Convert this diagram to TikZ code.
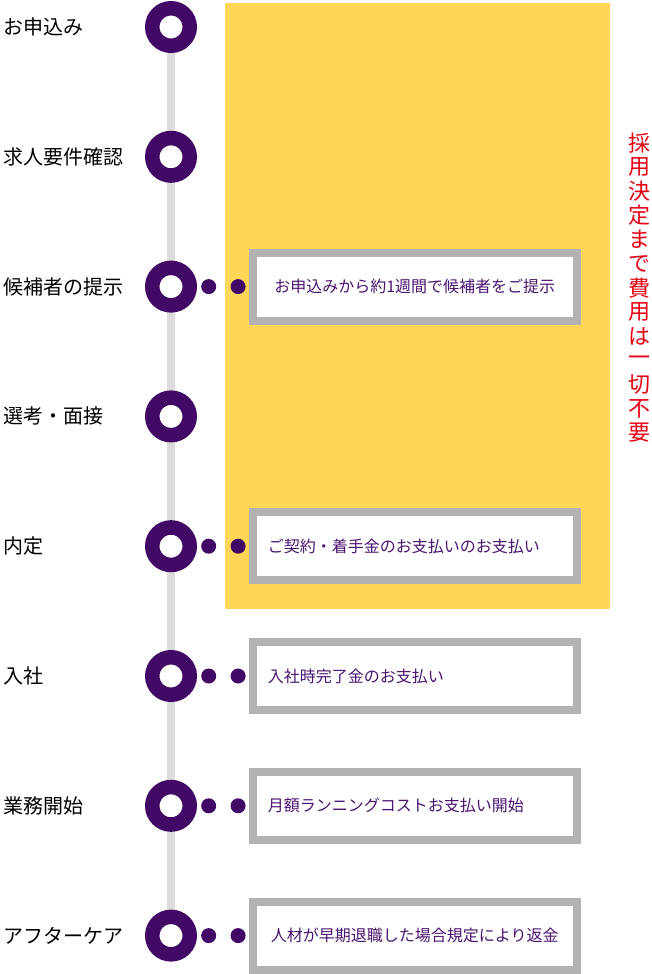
\documentclass[tikz,border=0pt]{standalone}
\usepackage{fontspec}
\setmainfont{Noto Sans CJK JP}
\usetikzlibrary{positioning,backgrounds}

\definecolor{ringpurple}{RGB}{66,8,102}
\definecolor{textpurple}{RGB}{75,20,112}
\definecolor{spinegray}{RGB}{220,220,220}
\definecolor{boxgray}{RGB}{178,178,178}
\definecolor{freeyellow}{RGB}{255,214,88}
\definecolor{notered}{RGB}{230,0,18}

\tikzset{
  ring/.style={circle,draw=ringpurple,line width=14.5pt,fill=white,minimum size=37.5pt,inner sep=0pt},
  dot/.style={circle,fill=ringpurple,minimum size=15pt,inner sep=0pt},
  steplabel/.style={anchor=west,inner sep=0pt,font=\fontsize{20pt}{24pt}\selectfont},
  infobox/.style={draw=boxgray,line width=8pt,fill=white,minimum width=324pt,minimum height=68pt,
    inner xsep=15pt,text width=294pt,text=textpurple,font=\fontsize{16pt}{19pt}\selectfont},
  freechar/.style={inner sep=0pt,text=notered,font=\fontsize{22pt}{24pt}\selectfont}
}

\begin{document}
\begin{tikzpicture}[x=1pt,y=-1pt]
    \useasboundingbox (0,0) rectangle (652,974);
    \fill[freeyellow,rounded corners=1pt] (225,3) rectangle (610,609);
    \foreach \name [count=\i] in {お申込み,求人要件確認,候補者の提示,選考・面接,内定,入社,業務開始,アフターケア}{
        \node[ring](s\i) at (171,27+129.8*\i-129.8){};
        \node[steplabel](l\i) at (3,27+129.8*\i-129.8){\name};
    }
    \begin{scope}[on background layer]
        \draw[spinegray,line width=8.5pt](s1.center)--(s8.center);
    \end{scope}
    \foreach \i/\txt/\al in {3/お申込みから約1週間で候補者をご提示/center,
                            5/ご契約・着手金のお支払いのお支払い/left,
                            6/入社時完了金のお支払い/left,
                            7/月額ランニングコストお支払い開始/left,
                            8/人材が早期退職した場合規定により返金/center}{
        \node[dot](da\i)[right=4pt of s\i]{};
        \node[dot](db\i)[right=14pt of da\i]{};
        \node[infobox,align=\al](b\i)[right=3pt of db\i]{\txt};
    }
    % vertical caption, one character per node
    \foreach \c [count=\k] in {採,用,決,定,ま,で,費,用,は,一,切,不,要}{
        \node[freechar](r\k) at (639,143+24.17*\k-24.17){\c};
    }
\end{tikzpicture}
\end{document}
